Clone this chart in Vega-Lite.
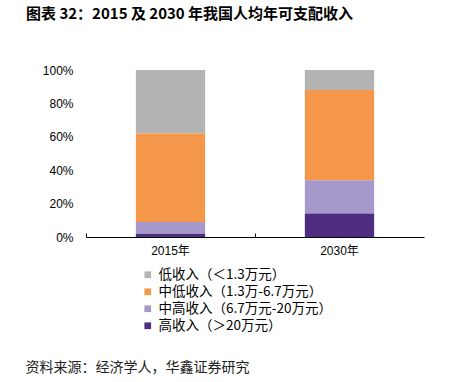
{
  "$schema": "https://vega.github.io/schema/vega-lite/v6.json",
  "autosize": {"type": "none"},
  "padding": {"left": 86, "top": 70, "right": 37, "bottom": 145},
  "width": 338,
  "height": 167,
  "background": "white",
  "title": {
    "text": "图表 32：2015 及 2030 年我国人均年可支配收入",
    "anchor": "start",
    "frame": "group",
    "dx": -60,
    "offset": 42,
    "fontSize": 15,
    "fontWeight": "bold",
    "font": "Noto Sans CJK SC",
    "color": "#000000"
  },
  "data": {
    "values": [
      {"year": "2015年", "group": "低收入（＜1.3万元）", "rank": 4, "share": 0.38},
      {"year": "2015年", "group": "中低收入（1.3万-6.7万元）", "rank": 3, "share": 0.53},
      {"year": "2015年", "group": "中高收入（6.7万元-20万元）", "rank": 2, "share": 0.07},
      {"year": "2015年", "group": "高收入（＞20万元）", "rank": 1, "share": 0.02},
      {"year": "2030年", "group": "低收入（＜1.3万元）", "rank": 4, "share": 0.12},
      {"year": "2030年", "group": "中低收入（1.3万-6.7万元）", "rank": 3, "share": 0.54},
      {"year": "2030年", "group": "中高收入（6.7万元-20万元）", "rank": 2, "share": 0.20},
      {"year": "2030年", "group": "高收入（＞20万元）", "rank": 1, "share": 0.14}
    ]
  },
  "mark": {"type": "bar", "width": {"band": 0.41}},
  "encoding": {
    "x": {
      "field": "year",
      "type": "nominal",
      "scale": {"paddingInner": 0, "paddingOuter": 0},
      "axis": {
        "title": "资料来源：经济学人，华鑫证券研究",
        "titleX": -61,
        "titleY": 130,
        "titleAlign": "left",
        "titleAnchor": "start",
        "titleBaseline": "middle",
        "titleFont": "Noto Sans CJK SC",
        "titleFontSize": 14,
        "titleFontWeight": "normal",
        "titleColor": "#222222",
        "labelAngle": 0,
        "labelFont": "Liberation Sans, Noto Sans CJK SC",
        "labelFontSize": 12,
        "labelColor": "#000000",
        "labelPadding": 12,
        "bandPosition": 0,
        "tickSize": -4,
        "tickColor": "#000000",
        "domainColor": "#000000",
        "grid": false
      }
    },
    "y": {
      "field": "share",
      "type": "quantitative",
      "stack": "zero",
      "scale": {"domain": [0, 1], "nice": false},
      "axis": {
        "title": null,
        "format": "%",
        "values": [0, 0.2, 0.4, 0.6, 0.8, 1],
        "domain": false,
        "ticks": false,
        "grid": false,
        "labelFont": "Liberation Sans",
        "labelFontSize": 12,
        "labelColor": "#000000",
        "labelPadding": 13
      }
    },
    "color": {
      "field": "group",
      "type": "nominal",
      "scale": {
        "domain": ["低收入（＜1.3万元）", "中低收入（1.3万-6.7万元）", "中高收入（6.7万元-20万元）", "高收入（＞20万元）"],
        "range": ["#b3b3b3", "#f5974a", "#a899cc", "#4e2c80"]
      },
      "legend": {
        "title": null,
        "orient": "none",
        "legendX": 55,
        "legendY": 198,
        "symbolType": "square",
        "symbolSize": 45,
        "symbolStrokeWidth": 0,
        "labelFont": "Noto Sans CJK SC",
        "labelFontSize": 13.5,
        "labelLimit": 300,
        "labelColor": "#000000",
        "labelOffset": 4,
        "rowPadding": 2
      }
    },
    "order": {"field": "rank", "type": "quantitative", "sort": "ascending"}
  },
  "config": {"view": {"stroke": null}}
}
